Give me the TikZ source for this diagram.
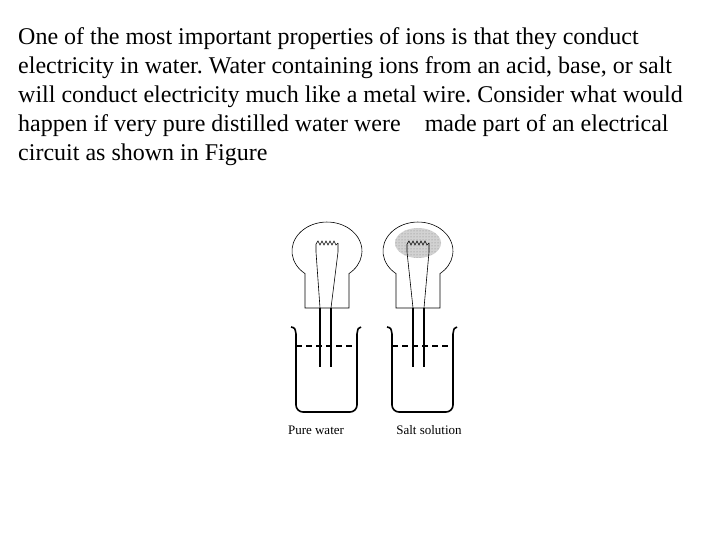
\documentclass[tikz,border=0pt]{standalone}
\usepackage{fontspec}
\setmainfont{Liberation Serif}
\usetikzlibrary{patterns}
\frenchspacing

\begin{document}
\begin{tikzpicture}[x=1pt,y=-1pt,
    txt/.style={anchor=base west, inner sep=0pt, font=\fontsize{24}{29}\selectfont},
    caption/.style={inner sep=0pt, font=\fontsize{13}{15}\selectfont},
    glass/.style={line width=0.6pt},
    wire/.style={line width=1.4pt},
    beaker/.style={line width=1.6pt, rounded corners=7pt}]
    \useasboundingbox (0,0) rectangle (720,540);

    % Text
    \node[txt] (l1) at (18,45) {One of the most important properties of ions is that they conduct};
    \node[txt] (l2) at (18,74) {electricity in water. Water containing ions from an acid, base, or salt};
    \node[txt] (l3) at (18,103) {will conduct electricity much like a metal wire. Consider what would};
    \node[txt] (l4) at (18,132) {happen if very pure distilled water were\quad made part of an electrical};
    \node[txt] (l5) at (18,161) {circuit as shown in Figure};

    % Salt solution glow
    \fill[gray!35] (418,243) ellipse [x radius=23, y radius=15];
    \fill[pattern=dots, pattern color=gray] (418,243) ellipse [x radius=23, y radius=15];

    % Bulbs
    \draw[glass] (305,273.6) arc[start angle=128.9, end angle=411.1, x radius=35, y radius=29] -- (349,308) -- (305,308) -- cycle;
    \draw[glass] (396,273.6) arc[start angle=128.9, end angle=411.1, x radius=35, y radius=29] -- (440,308) -- (396,308) -- cycle;

    % Filaments
    \draw[line width=0.6pt] (316,244) -- (318,241) -- (320,245) -- (322,241) -- (324,245) -- (326,241) -- (328,245) -- (330,241) -- (332,245) -- (334,241) -- (336,245) -- (338,243);
    \draw[line width=0.6pt] (407,244) -- (409,241) -- (411,245) -- (413,241) -- (415,245) -- (417,241) -- (419,245) -- (421,241) -- (423,245) -- (425,241) -- (427,245) -- (429,243);
    \draw[glass] (316,244) -- (316,252) -- (320,308);
    \draw[glass] (338,243) -- (338,252) -- (331,308);
    \draw[glass] (407,244) -- (407,252) -- (413,308);
    \draw[glass] (429,243) -- (429,252) -- (424,308);

    % Electrodes
    \draw[wire] (320,308) -- (320,367);
    \draw[wire] (331,308) -- (331,367);
    \draw[wire] (413,308) -- (413,367);
    \draw[wire] (424,308) -- (424,367);

    % Beakers
    \draw[line width=1.6pt] (291,327) .. controls (295,328) .. (296,334);
    \draw[beaker] (296,334) -- (296,412) -- (357,412) -- (357,334);
    \draw[line width=1.6pt] (357,334) .. controls (358,328) .. (361,327);
    \draw[line width=1.6pt] (387,327) .. controls (391,328) .. (392,334);
    \draw[beaker] (392,334) -- (392,412) -- (453,412) -- (453,334);
    \draw[line width=1.6pt] (453,334) .. controls (454,328) .. (457,327);

    % Water level
    \draw[line width=1.3pt, dash pattern=on 6pt off 4pt] (296,346) -- (357,346);
    \draw[line width=1.3pt, dash pattern=on 6pt off 4pt] (392,346) -- (453,346);

    % Labels
    \node[caption] (pure) at (316,430) {Pure water};
    \node[caption] (salt) at (429,430) {Salt solution};
\end{tikzpicture}
\end{document}
